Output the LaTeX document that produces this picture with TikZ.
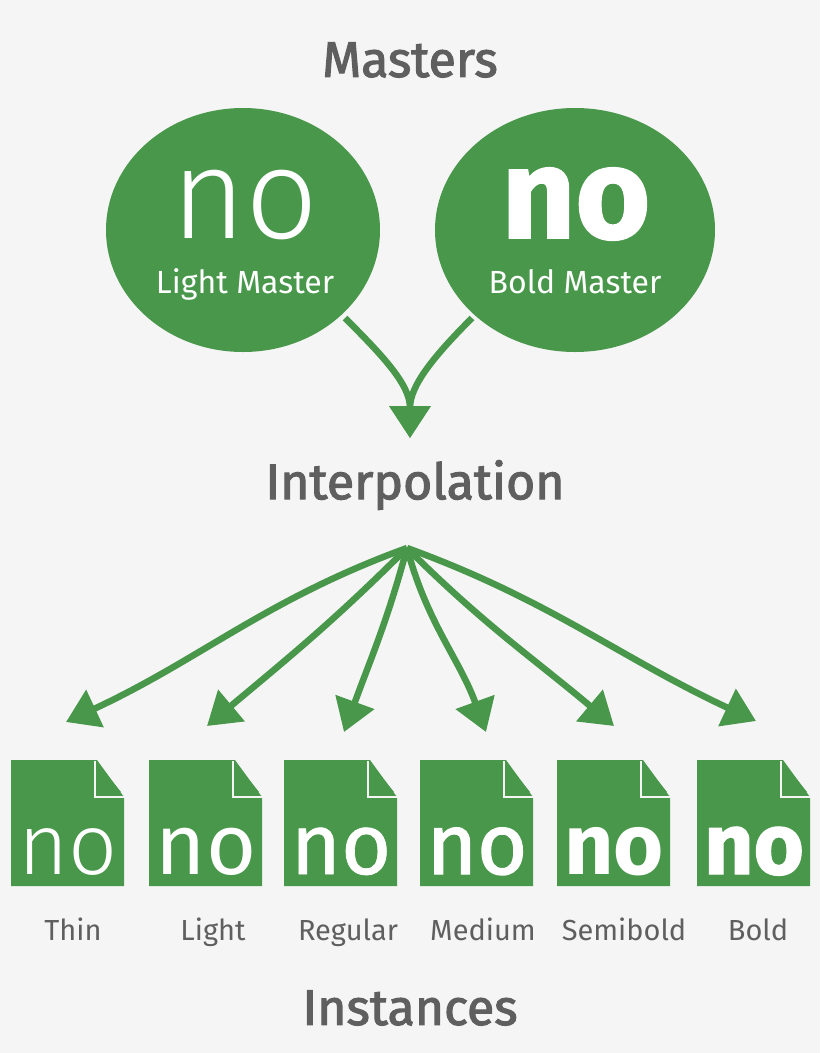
\documentclass[tikz,border=0pt]{standalone}
\usepackage{fontspec}
\setmainfont{Fira Sans}
\newfontfamily\fwThin{Fira Sans Light}
\newfontfamily\fwRegular{Fira Sans}
\newfontfamily\fwMedium[FakeBold=0.8]{Fira Sans}
\newfontfamily\fwSemi[FakeBold=1.6]{Fira Sans}
\newfontfamily\fwTitle[FakeBold=2.2]{Fira Sans}
\newfontfamily\fwBold[BoldFont={* Bold}]{Fira Sans}
\newfontfamily\fwHeavy[FakeBold=1.5]{Fira Sans Bold}
\usetikzlibrary{arrows.meta,shapes.geometric}
\definecolor{leaf}{HTML}{48974A}
\definecolor{paper}{HTML}{F5F5F5}
\definecolor{ink}{HTML}{5F5F5F}
\tikzset{
  title/.style={text=ink, font=\fwTitle\fontsize{50}{50}\selectfont},
  caption/.style={text=ink, anchor=base, font=\fwRegular\fontsize{29}{29}\selectfont},
  master/.style={ellipse, fill=leaf, text=white},
  flow/.style={draw=leaf, line width=6.5pt, -{Triangle[length=32pt,width=40pt]}},
}
% file icon: #1 left x, #2 name, #3 font
\newcommand{\fileicon}[3]{
  \fill[leaf] (#1,760) -- ++(86,0) -- ++(27,37) -- ++(0,89) -- ++(-113,0) -- cycle;
  \draw[paper, line width=2.5pt] (#1+84,761) -- (#1+84,797) -- (#1+114,797);
  \fill[leaf] (#1+88,765) -- (#1+110,792) -- (#1+88,792) -- cycle;
  \node[text=white, font=#3\fontsize{86}{86}\selectfont, anchor=base] (#2) at (#1+57,874) {no};
}
\begin{document}
\begin{tikzpicture}[x=1pt, y=-1pt]
  \fill[paper] (0,0) rectangle (820,1053);
  \useasboundingbox (0,0) rectangle (820,1053);

  \node[title] (masters) at (410,60) {Masters};
  \node[master, minimum width=274pt, minimum height=244pt] (lm) at (243,230) {};
  \node[master, minimum width=280pt, minimum height=244pt] (bm) at (575,230) {};
  \node[text=white, inner sep=0pt, font=\fwThin\fontsize{128}{128}\selectfont, anchor=base] (lno) at (245,238) {no};
  \node[text=white, inner sep=0pt, font=\fwHeavy\fontsize{128}{128}\selectfont, anchor=base] (bno) at (576,238) {no};
  \node[text=white, inner sep=0pt, anchor=base, font=\fwRegular\fontsize{32}{32}\selectfont] (lcap) at (245,293) {Light Master};
  \node[text=white, inner sep=0pt, anchor=base, font=\fwRegular\fontsize{32}{32}\selectfont] (bcap) at (575,293) {Bold Master};

  \coordinate (lout) at (345,318);
  \coordinate (bout) at (472,318);
  \coordinate (merge) at (410,438);
  \draw[flow] (lout) to[out=-45, in=90] (merge);
  \draw[flow] (bout) to[out=-135, in=90] (merge);

  \node[title] (interp) at (415,485) {Interpolation};

  \coordinate (hub) at (407,548);
  \coordinate (t1) at (66,722);
  \coordinate (t2) at (207,726);
  \coordinate (t3) at (344,732);
  \coordinate (t4) at (486,732);
  \coordinate (t5) at (614,726);
  \coordinate (t6) at (756,721);
  \draw[flow] (hub) to[out=-160, in=25] (t1);
  \draw[flow] (hub) to[out=-135, in=40] (t2);
  \draw[flow] (hub) to[out=-105, in=70] (t3);
  \draw[flow] (hub) to[out=-75, in=110] (t4);
  \draw[flow] (hub) to[out=-45, in=140] (t5);
  \draw[flow] (hub) to[out=-20, in=155] (t6);

  \fileicon{11}{f1}{\fwThin}
  \fileicon{149}{f2}{\fwRegular}
  \fileicon{284}{f3}{\fwMedium}
  \fileicon{420}{f4}{\fwSemi}
  \fileicon{557}{f5}{\fwBold\bfseries}
  \fileicon{697}{f6}{\fwHeavy}

  \node[caption] (c1) at (73,940) {Thin};
  \node[caption] (c2) at (213,940) {Light};
  \node[caption] (c3) at (348,940) {Regular};
  \node[caption] (c4) at (483,940) {Medium};
  \node[caption] (c5) at (624,940) {Semibold};
  \node[caption] (c6) at (758,940) {Bold};

  \node[title] (inst) at (410,1008) {Instances};
\end{tikzpicture}
\end{document}
